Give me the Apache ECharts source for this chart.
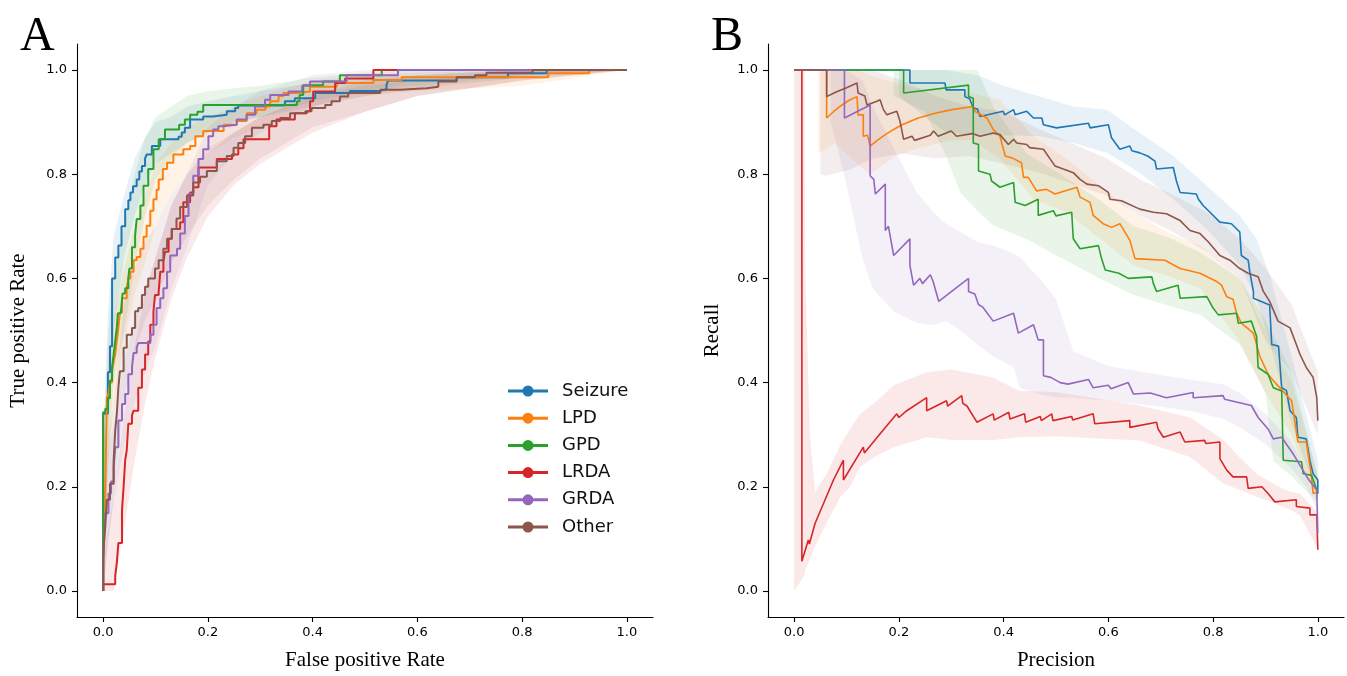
<!DOCTYPE html>
<html>
<head>
<meta charset="utf-8">
<script src="https://cdn.jsdelivr.net/npm/echarts@6.0.0/dist/echarts.min.js"></script>
<style>
html,body{margin:0;padding:0;background:#fff;}
#chart{width:1347px;height:676px;}
</style>
</head>
<body>
<div id="chart"></div>
<script>
// ---------- categories / ticks ----------
const classNames = ['Seizure', 'LPD', 'GPD', 'LRDA', 'GRDA', 'Other'];
const tickValues = [0, 0.2, 0.4, 0.6, 0.8, 1.0];
const tickLabels = ['0.0', '0.2', '0.4', '0.6', '0.8', '1.0'];

// ---------- Panel A: ROC curves [FPR, TPR] (step vertices) ----------
const rocSeizure = [[0,0],[0,0.34],[0.009,0.42],[0.013,0.47],[0.017,0.6],[0.023,0.64],[0.029,0.663],[0.035,0.7],[0.042,0.733],[0.048,0.75],[0.052,0.765],[0.057,0.777],[0.064,0.79],[0.069,0.805],[0.074,0.816],[0.08,0.83],[0.083,0.838],[0.093,0.854],[0.109,0.867],[0.144,0.872],[0.15,0.88],[0.156,0.889],[0.166,0.905],[0.191,0.911],[0.21,0.914],[0.236,0.921],[0.252,0.927],[0.258,0.932],[0.347,0.94],[0.366,0.946],[0.405,0.956],[0.471,0.96],[0.529,0.963],[0.541,0.971],[0.544,0.98],[0.675,0.986],[0.773,0.994],[0.847,1.0],[1,1]];
const rocLPD = [[0,0],[0,0.15],[0.004,0.19],[0.007,0.371],[0.01,0.378],[0.013,0.4],[0.017,0.422],[0.02,0.44],[0.023,0.454],[0.026,0.48],[0.029,0.505],[0.032,0.535],[0.036,0.562],[0.045,0.581],[0.048,0.6],[0.052,0.613],[0.058,0.635],[0.064,0.641],[0.071,0.657],[0.077,0.68],[0.083,0.701],[0.09,0.73],[0.096,0.752],[0.102,0.77],[0.106,0.79],[0.114,0.81],[0.122,0.822],[0.134,0.838],[0.153,0.848],[0.166,0.854],[0.176,0.873],[0.191,0.883],[0.23,0.895],[0.255,0.902],[0.274,0.917],[0.293,0.924],[0.31,0.93],[0.319,0.94],[0.335,0.95],[0.344,0.956],[0.37,0.959],[0.395,0.968],[0.446,0.975],[0.516,0.981],[0.57,0.986],[0.85,0.994],[0.928,1.0],[1,1]];
const rocGPD = [[0,0],[0,0.343],[0.004,0.35],[0.009,0.37],[0.013,0.404],[0.017,0.43],[0.02,0.454],[0.023,0.48],[0.026,0.505],[0.028,0.533],[0.034,0.537],[0.037,0.571],[0.042,0.581],[0.048,0.6],[0.05,0.619],[0.055,0.66],[0.061,0.682],[0.064,0.714],[0.071,0.74],[0.077,0.778],[0.086,0.81],[0.096,0.848],[0.106,0.867],[0.118,0.886],[0.145,0.895],[0.156,0.905],[0.166,0.914],[0.18,0.92],[0.191,0.933],[0.37,0.94],[0.375,0.952],[0.382,0.971],[0.42,0.978],[0.452,0.99],[0.532,1.0],[1,1]];
const rocLRDA = [[0,0],[0,0.013],[0.023,0.029],[0.026,0.054],[0.029,0.092],[0.036,0.156],[0.039,0.2],[0.042,0.251],[0.045,0.27],[0.048,0.321],[0.055,0.337],[0.058,0.346],[0.067,0.39],[0.074,0.425],[0.08,0.454],[0.086,0.479],[0.09,0.511],[0.096,0.537],[0.099,0.568],[0.106,0.575],[0.109,0.613],[0.115,0.632],[0.118,0.651],[0.125,0.676],[0.131,0.695],[0.147,0.708],[0.153,0.746],[0.166,0.765],[0.172,0.775],[0.182,0.813],[0.217,0.829],[0.246,0.838],[0.258,0.85],[0.268,0.867],[0.317,0.892],[0.331,0.905],[0.366,0.917],[0.389,0.921],[0.395,0.94],[0.401,0.959],[0.443,0.975],[0.462,0.984],[0.516,1.0],[1,1]];
const rocGRDA = [[0,0],[0,0.06],[0.002,0.1],[0.004,0.149],[0.01,0.187],[0.015,0.21],[0.02,0.238],[0.023,0.276],[0.029,0.327],[0.036,0.359],[0.042,0.378],[0.048,0.416],[0.055,0.429],[0.058,0.457],[0.064,0.467],[0.067,0.476],[0.09,0.492],[0.096,0.511],[0.102,0.543],[0.109,0.562],[0.115,0.581],[0.122,0.613],[0.128,0.644],[0.141,0.657],[0.147,0.686],[0.156,0.72],[0.163,0.762],[0.172,0.797],[0.182,0.829],[0.191,0.848],[0.201,0.873],[0.21,0.886],[0.22,0.892],[0.23,0.895],[0.255,0.905],[0.274,0.914],[0.29,0.93],[0.309,0.943],[0.319,0.952],[0.354,0.959],[0.38,0.97],[0.395,0.978],[0.465,0.99],[0.563,1.0],[1,1]];
const rocOther = [[0,0],[0,0.06],[0.002,0.1],[0.004,0.124],[0.007,0.175],[0.013,0.206],[0.02,0.251],[0.023,0.308],[0.026,0.34],[0.029,0.39],[0.032,0.422],[0.039,0.467],[0.045,0.492],[0.055,0.505],[0.061,0.537],[0.067,0.543],[0.074,0.568],[0.08,0.584],[0.086,0.6],[0.099,0.619],[0.106,0.635],[0.115,0.657],[0.122,0.676],[0.131,0.695],[0.14,0.715],[0.147,0.737],[0.16,0.759],[0.172,0.784],[0.185,0.795],[0.198,0.806],[0.217,0.825],[0.236,0.835],[0.249,0.851],[0.258,0.86],[0.271,0.873],[0.284,0.889],[0.306,0.895],[0.322,0.902],[0.338,0.908],[0.357,0.917],[0.386,0.921],[0.398,0.927],[0.424,0.933],[0.436,0.94],[0.452,0.949],[0.468,0.956],[0.529,0.962],[0.567,0.965],[0.618,0.968],[0.64,0.978],[0.675,0.986],[0.71,0.99],[0.732,0.995],[0.82,1.0],[1,1]];

// ---------- Panel A: ROC bands [FPR, low, high] ----------
const rocBandSeizure = [[0,0.1,0.3],[0.01,0.3,0.55],[0.02,0.5,0.68],[0.04,0.64,0.76],[0.06,0.72,0.83],[0.08,0.78,0.87],[0.1,0.82,0.9],[0.13,0.84,0.91],[0.16,0.86,0.93],[0.2,0.88,0.94],[0.25,0.9,0.95],[0.3,0.91,0.96],[0.4,0.93,0.975],[0.5,0.95,0.985],[0.6,0.965,0.99],[0.8,0.985,1],[1,1,1]];
const rocBandLPD = [[0,0.05,0.25],[0.01,0.25,0.45],[0.02,0.35,0.52],[0.04,0.48,0.62],[0.06,0.57,0.7],[0.08,0.63,0.76],[0.1,0.7,0.82],[0.13,0.76,0.86],[0.16,0.8,0.89],[0.2,0.84,0.91],[0.25,0.87,0.93],[0.3,0.89,0.95],[0.4,0.93,0.98],[0.5,0.95,0.99],[0.6,0.96,0.995],[0.8,0.97,1],[1,1,1]];
const rocBandGPD = [[0,0.05,0.25],[0.01,0.25,0.5],[0.02,0.4,0.6],[0.04,0.5,0.7],[0.06,0.62,0.8],[0.08,0.72,0.87],[0.1,0.79,0.91],[0.13,0.83,0.93],[0.16,0.86,0.95],[0.2,0.88,0.96],[0.25,0.9,0.965],[0.3,0.91,0.97],[0.4,0.94,0.985],[0.5,0.96,0.995],[0.6,0.97,1],[0.8,0.99,1],[1,1,1]];
const rocBandLRDA = [[0,0,0.06],[0.01,0,0.12],[0.02,0,0.18],[0.04,0.12,0.34],[0.06,0.25,0.47],[0.08,0.36,0.57],[0.1,0.45,0.64],[0.13,0.56,0.74],[0.16,0.64,0.8],[0.2,0.72,0.84],[0.25,0.78,0.88],[0.3,0.82,0.91],[0.4,0.88,0.95],[0.5,0.92,0.98],[0.6,0.95,0.99],[0.8,0.98,1],[1,1,1]];
const rocBandGRDA = [[0,0,0.15],[0.01,0.1,0.27],[0.02,0.17,0.32],[0.04,0.28,0.44],[0.06,0.36,0.52],[0.08,0.42,0.58],[0.1,0.47,0.64],[0.13,0.58,0.74],[0.16,0.66,0.8],[0.2,0.78,0.89],[0.25,0.84,0.93],[0.3,0.88,0.96],[0.4,0.93,0.99],[0.5,0.96,1],[0.6,0.98,1],[0.8,0.99,1],[1,1,1]];
const rocBandOther = [[0,0,0.15],[0.01,0.1,0.3],[0.02,0.18,0.36],[0.04,0.37,0.55],[0.06,0.46,0.62],[0.08,0.52,0.67],[0.1,0.56,0.7],[0.13,0.63,0.76],[0.16,0.68,0.8],[0.2,0.74,0.85],[0.25,0.79,0.88],[0.3,0.83,0.91],[0.4,0.89,0.95],[0.5,0.92,0.97],[0.6,0.95,0.98],[0.8,0.98,1],[1,1,1]];

// ---------- Panel B: PR curves [Precision, Recall] ----------
const prSeizure = [[0,1],[0.221,1],[0.221,0.975],[0.288,0.975],[0.29,0.962],[0.326,0.962],[0.326,0.949],[0.335,0.945],[0.342,0.927],[0.35,0.925],[0.355,0.911],[0.399,0.921],[0.402,0.914],[0.419,0.924],[0.422,0.914],[0.444,0.921],[0.457,0.908],[0.473,0.908],[0.476,0.895],[0.501,0.889],[0.562,0.898],[0.565,0.889],[0.6,0.895],[0.606,0.87],[0.622,0.848],[0.641,0.854],[0.645,0.845],[0.66,0.841],[0.675,0.835],[0.689,0.825],[0.692,0.81],[0.724,0.813],[0.73,0.787],[0.737,0.765],[0.768,0.762],[0.772,0.752],[0.781,0.74],[0.794,0.727],[0.813,0.708],[0.835,0.705],[0.851,0.689],[0.854,0.644],[0.867,0.635],[0.87,0.613],[0.877,0.575],[0.877,0.562],[0.908,0.549],[0.912,0.473],[0.925,0.47],[0.931,0.39],[0.94,0.385],[0.947,0.346],[0.959,0.333],[0.962,0.295],[0.978,0.292],[0.985,0.25],[0.991,0.225],[1.0,0.213],[1.0,0.187]];
const prLPD = [[0,1],[0.062,1],[0.062,0.908],[0.075,0.92],[0.09,0.932],[0.105,0.942],[0.12,0.949],[0.122,0.914],[0.132,0.914],[0.132,0.873],[0.14,0.875],[0.145,0.854],[0.16,0.866],[0.174,0.876],[0.19,0.886],[0.206,0.895],[0.237,0.908],[0.269,0.917],[0.301,0.924],[0.342,0.93],[0.345,0.921],[0.368,0.908],[0.38,0.886],[0.393,0.873],[0.403,0.835],[0.419,0.83],[0.434,0.822],[0.438,0.794],[0.447,0.794],[0.463,0.768],[0.482,0.771],[0.498,0.762],[0.54,0.775],[0.546,0.756],[0.565,0.746],[0.571,0.721],[0.59,0.705],[0.606,0.698],[0.622,0.705],[0.641,0.673],[0.651,0.638],[0.708,0.635],[0.737,0.619],[0.775,0.61],[0.807,0.594],[0.816,0.587],[0.826,0.565],[0.838,0.56],[0.845,0.533],[0.854,0.514],[0.877,0.495],[0.889,0.451],[0.905,0.416],[0.921,0.397],[0.95,0.365],[0.962,0.286],[0.978,0.286],[0.988,0.219],[0.991,0.187],[1.0,0.19]];
const prGPD = [[0,1],[0.209,1],[0.209,0.956],[0.333,0.971],[0.333,0.949],[0.342,0.946],[0.342,0.86],[0.352,0.857],[0.352,0.806],[0.374,0.8],[0.377,0.787],[0.393,0.775],[0.419,0.784],[0.422,0.746],[0.441,0.74],[0.466,0.752],[0.466,0.721],[0.495,0.73],[0.5,0.72],[0.53,0.727],[0.533,0.676],[0.546,0.657],[0.581,0.663],[0.587,0.638],[0.594,0.616],[0.62,0.61],[0.638,0.6],[0.683,0.603],[0.686,0.59],[0.692,0.575],[0.733,0.587],[0.737,0.562],[0.788,0.565],[0.8,0.543],[0.81,0.53],[0.845,0.533],[0.848,0.514],[0.873,0.518],[0.883,0.489],[0.886,0.429],[0.905,0.416],[0.915,0.39],[0.931,0.384],[0.934,0.251],[0.969,0.248],[0.972,0.225],[0.988,0.222],[0.998,0.194],[1.0,0.187]];
const prLRDA = [[0,1],[0.0147,1],[0.0147,0.057],[0.027,0.098],[0.029,0.09],[0.04,0.13],[0.056,0.168],[0.075,0.213],[0.094,0.251],[0.094,0.213],[0.132,0.276],[0.134,0.265],[0.161,0.298],[0.196,0.34],[0.2,0.333],[0.215,0.346],[0.253,0.371],[0.253,0.346],[0.291,0.365],[0.293,0.355],[0.32,0.375],[0.322,0.36],[0.33,0.355],[0.349,0.324],[0.38,0.34],[0.382,0.328],[0.41,0.343],[0.412,0.33],[0.44,0.34],[0.442,0.324],[0.47,0.335],[0.472,0.327],[0.492,0.34],[0.494,0.327],[0.53,0.335],[0.532,0.328],[0.571,0.34],[0.574,0.321],[0.641,0.327],[0.641,0.314],[0.692,0.324],[0.695,0.311],[0.705,0.295],[0.737,0.305],[0.746,0.286],[0.784,0.289],[0.786,0.283],[0.813,0.286],[0.813,0.254],[0.826,0.232],[0.838,0.219],[0.864,0.219],[0.867,0.197],[0.893,0.2],[0.905,0.187],[0.918,0.171],[0.959,0.175],[0.959,0.162],[0.985,0.159],[0.985,0.146],[0.998,0.146],[1.0,0.079]];
const prGRDA = [[0,1],[0.096,1],[0.096,0.908],[0.145,0.933],[0.145,0.797],[0.152,0.79],[0.155,0.762],[0.174,0.781],[0.174,0.692],[0.18,0.7],[0.19,0.644],[0.221,0.676],[0.221,0.625],[0.228,0.587],[0.24,0.6],[0.245,0.59],[0.26,0.607],[0.265,0.595],[0.276,0.556],[0.333,0.6],[0.333,0.575],[0.345,0.57],[0.352,0.55],[0.36,0.545],[0.38,0.518],[0.419,0.533],[0.428,0.495],[0.457,0.511],[0.466,0.482],[0.476,0.482],[0.476,0.413],[0.49,0.41],[0.508,0.4],[0.523,0.397],[0.562,0.406],[0.571,0.39],[0.6,0.395],[0.605,0.388],[0.638,0.4],[0.648,0.378],[0.68,0.38],[0.711,0.371],[0.762,0.381],[0.762,0.371],[0.819,0.375],[0.822,0.368],[0.873,0.356],[0.886,0.333],[0.905,0.311],[0.915,0.292],[0.931,0.295],[0.953,0.263],[0.966,0.241],[0.981,0.216],[0.998,0.194],[1.0,0.111]];
const prOther = [[0,1],[0.062,1],[0.062,0.949],[0.08,0.958],[0.1,0.966],[0.12,0.975],[0.122,0.956],[0.135,0.95],[0.139,0.933],[0.158,0.94],[0.164,0.943],[0.17,0.925],[0.177,0.914],[0.196,0.921],[0.202,0.902],[0.209,0.867],[0.225,0.873],[0.23,0.865],[0.26,0.875],[0.266,0.883],[0.275,0.873],[0.3,0.883],[0.31,0.873],[0.34,0.878],[0.355,0.873],[0.38,0.879],[0.393,0.876],[0.409,0.857],[0.419,0.867],[0.425,0.86],[0.444,0.857],[0.45,0.851],[0.476,0.848],[0.489,0.829],[0.498,0.816],[0.514,0.81],[0.533,0.803],[0.546,0.79],[0.559,0.781],[0.581,0.778],[0.6,0.765],[0.603,0.752],[0.625,0.749],[0.66,0.733],[0.686,0.727],[0.711,0.724],[0.737,0.711],[0.756,0.692],[0.775,0.686],[0.791,0.67],[0.813,0.644],[0.832,0.635],[0.851,0.619],[0.867,0.61],[0.886,0.603],[0.896,0.575],[0.908,0.556],[0.924,0.518],[0.947,0.505],[0.959,0.473],[0.966,0.454],[0.978,0.429],[0.991,0.41],[0.998,0.371],[1.0,0.327]];

// ---------- Panel B: PR bands [Precision, low, high] ----------
const prBandSeizure = [[0.2,0.95,1.0],[0.25,0.91,1.0],[0.29,0.88,1.0],[0.35,0.875,0.99],[0.4,0.875,0.97],[0.469,0.873,0.949],[0.533,0.86,0.93],[0.597,0.841,0.924],[0.66,0.803,0.879],[0.724,0.752,0.835],[0.788,0.695,0.778],[0.851,0.625,0.721],[0.883,0.56,0.676],[0.91,0.47,0.6],[0.95,0.32,0.45],[1.0,0.18,0.25]];
const prBandLPD = [[0.046,0.84,1.0],[0.078,0.86,1.0],[0.12,0.82,1.0],[0.145,0.8,0.99],[0.193,0.835,0.975],[0.237,0.85,0.965],[0.3,0.865,0.96],[0.34,0.865,0.955],[0.393,0.829,0.943],[0.457,0.752,0.873],[0.52,0.727,0.829],[0.584,0.676,0.778],[0.648,0.625,0.727],[0.711,0.606,0.689],[0.775,0.581,0.663],[0.85,0.48,0.6],[0.9,0.38,0.5],[0.95,0.3,0.4],[1.0,0.17,0.22]];
const prBandGPD = [[0.19,0.95,1.0],[0.25,0.92,1.0],[0.29,0.835,1.0],[0.317,0.765,1.0],[0.35,0.73,1.0],[0.38,0.702,0.93],[0.444,0.675,0.84],[0.508,0.64,0.8],[0.584,0.6,0.75],[0.648,0.568,0.7],[0.711,0.549,0.68],[0.775,0.53,0.65],[0.851,0.473,0.6],[0.9,0.38,0.52],[0.915,0.25,0.49],[0.95,0.22,0.42],[1.0,0.17,0.22]];
const prBandLRDA = [[0,0,1.0],[0.02,0.03,1.0],[0.021,0.04,0.62],[0.03,0.06,0.3],[0.04,0.086,0.19],[0.062,0.13,0.225],[0.088,0.181,0.28],[0.107,0.2,0.311],[0.126,0.238,0.34],[0.158,0.26,0.365],[0.19,0.276,0.395],[0.253,0.295,0.42],[0.3,0.29,0.425],[0.38,0.29,0.41],[0.43,0.295,0.384],[0.5,0.297,0.382],[0.66,0.289,0.356],[0.756,0.257,0.333],[0.82,0.206,0.29],[0.85,0.195,0.257],[0.883,0.181,0.225],[0.915,0.17,0.206],[0.947,0.156,0.19],[0.966,0.145,0.187],[1.0,0.08,0.15]];
const prBandGRDA = [[0.07,0.9,1.0],[0.1,0.78,1.0],[0.13,0.64,0.98],[0.15,0.58,0.93],[0.19,0.537,0.85],[0.234,0.515,0.765],[0.266,0.51,0.727],[0.29,0.518,0.705],[0.317,0.5,0.689],[0.35,0.473,0.67],[0.38,0.45,0.663],[0.419,0.429,0.648],[0.431,0.39,0.64],[0.469,0.377,0.6],[0.5,0.372,0.56],[0.533,0.371,0.46],[0.6,0.365,0.432],[0.69,0.355,0.416],[0.76,0.345,0.405],[0.82,0.33,0.397],[0.851,0.314,0.38],[0.9,0.282,0.34],[0.947,0.238,0.29],[0.978,0.2,0.232],[1.0,0.15,0.194]];
const prBandOther = [[0.05,0.8,1.0],[0.062,0.797,1.0],[0.11,0.81,1.0],[0.148,0.83,1.0],[0.206,0.84,0.98],[0.27,0.83,0.95],[0.333,0.835,0.93],[0.4,0.82,0.92],[0.469,0.803,0.886],[0.597,0.759,0.83],[0.66,0.721,0.79],[0.724,0.689,0.76],[0.788,0.651,0.727],[0.851,0.6,0.676],[0.9,0.48,0.62],[0.95,0.42,0.55],[1.0,0.3,0.42]];

// ---------- styling ----------
const lineColors = ['#1f77b4', '#ff7f0e', '#2ca02c', '#d62728', '#9467bd', '#8c564b'];
const bandColors = ['rgba(31,119,180,0.1)', 'rgba(255,127,14,0.1)', 'rgba(44,160,44,0.1)', 'rgba(214,39,40,0.1)', 'rgba(148,103,189,0.1)', 'rgba(140,86,75,0.1)'];

const rocCurves = [rocSeizure, rocLPD, rocGPD, rocLRDA, rocGRDA, rocOther];
const rocBands = [rocBandSeizure, rocBandLPD, rocBandGPD, rocBandLRDA, rocBandGRDA, rocBandOther];
const prCurves = [prSeizure, prLPD, prGPD, prLRDA, prGRDA, prOther];
const prBands = [prBandSeizure, prBandLPD, prBandGPD, prBandLRDA, prBandGRDA, prBandOther];

const tickFont = 'DejaVu Sans';
const serif = 'Liberation Serif';

function makeAxis(gridIndex, isX, name, nameGap) {
  return {
    gridIndex: gridIndex,
    type: 'value',
    min: -0.05,
    max: 1.05,
    name: name,
    nameLocation: 'middle',
    nameGap: nameGap,
    nameTextStyle: { fontFamily: serif, fontSize: 21, color: '#000' },
    axisLine: { show: true, onZero: false, lineStyle: { color: '#000', width: 1.1 } },
    axisTick: { show: true, length: 5, inside: false, customValues: tickValues, lineStyle: { color: '#000', width: 1.1 } },
    axisLabel: {
      show: true,
      customValues: tickValues,
      margin: isX ? 9 : 10,
      fontFamily: tickFont,
      fontSize: 13,
      color: '#000',
      formatter: function (v) { return tickLabels[tickValues.indexOf(Math.round(v * 10) / 10)] || v.toFixed(1); }
    },
    splitLine: { show: false }
  };
}

function bandSeries(band, color, gi) {
  return {
    type: 'custom',
    xAxisIndex: gi,
    yAxisIndex: gi,
    silent: true,
    z: 1,
    clip: true,
    data: band,
    encode: { x: 0, y: [1, 2] },
    renderItem: function (params, api) {
      if (params.dataIndex !== 0) return null;
      const up = [], lo = [];
      for (let i = 0; i < band.length; i++) {
        up.push(api.coord([band[i][0], band[i][2]]));
        lo.push(api.coord([band[i][0], band[i][1]]));
      }
      lo.reverse();
      return { type: 'polygon', shape: { points: up.concat(lo) }, style: { fill: color, stroke: null } };
    }
  };
}

const series = [];
classNames.forEach(function (n, i) {
  series.push({
    name: n, type: 'line', xAxisIndex: 0, yAxisIndex: 0,
    data: rocCurves[i], step: 'end', showSymbol: false, symbol: 'none',
    color: lineColors[i], lineStyle: { color: lineColors[i], width: 2 }, z: 3, silent: true
  });
});
classNames.forEach(function (n, i) {
  series.push({
    name: n, type: 'line', xAxisIndex: 1, yAxisIndex: 1,
    data: prCurves[i], showSymbol: false, symbol: 'none',
    color: lineColors[i], lineStyle: { color: lineColors[i], width: 1.6 }, z: 3, silent: true
  });
});
classNames.forEach(function (n, i) { series.push(bandSeries(rocBands[i], bandColors[i], 0)); });
classNames.forEach(function (n, i) { series.push(bandSeries(prBands[i], bandColors[i], 1)); });

const chart = echarts.init(document.getElementById('chart'), null, { renderer: 'canvas' });
chart.setOption({
  backgroundColor: '#fff',
  animation: false,
  title: [
    { text: 'A', left: 15, top: 8, textStyle: { fontFamily: serif, fontSize: 48, fontWeight: 'normal', color: '#000' } },
    { text: 'B', left: 706, top: 8, textStyle: { fontFamily: serif, fontSize: 48, fontWeight: 'normal', color: '#000' } }
  ],
  grid: [
    { left: 77, top: 44, width: 576, height: 577 },
    { left: 768, top: 44, width: 576, height: 577 }
  ],
  xAxis: [makeAxis(0, true, 'False positive Rate', 33), makeAxis(1, true, 'Precision', 33)],
  yAxis: [makeAxis(0, false, 'True positive Rate', 48), makeAxis(1, false, 'Recall', 45)],
  legend: {
    data: classNames,
    orient: 'vertical',
    left: 503,
    top: 376,
    itemWidth: 40,
    itemHeight: 11,
    itemGap: 7.2,
    icon: 'path://M0,4H40V7H0Z M25.5,5.5A5.5,5.5 0 1,1 14.5,5.5A5.5,5.5 0 1,1 25.5,5.5Z',
    textStyle: { fontFamily: tickFont, fontSize: 18, color: '#111', lineHeight: 20, padding: [0, 0, 0, 9] },
    selectedMode: false
  },
  series: series
});
</script>
</body>
</html>
